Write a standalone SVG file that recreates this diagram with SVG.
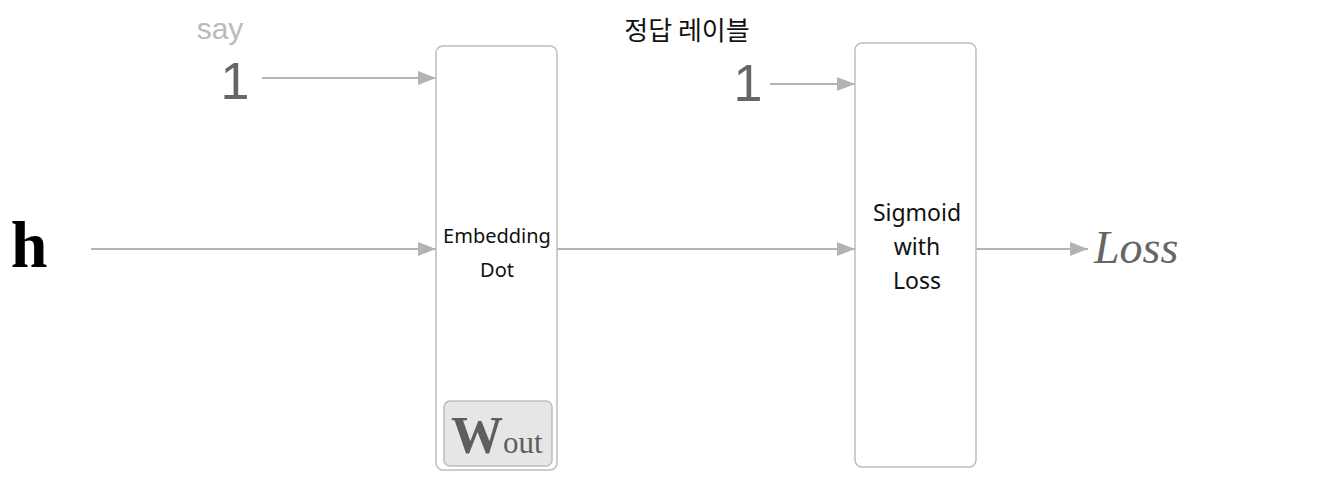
<svg xmlns="http://www.w3.org/2000/svg" width="1338" height="483" viewBox="0 0 1338 483">
<defs>
<marker id="ah" markerWidth="18" markerHeight="14" refX="18" refY="7" orient="auto" markerUnits="userSpaceOnUse">
<path d="M0,0 L18,7 L0,14 Z" fill="#b3b3b3"/>
</marker>
<style>
.box{fill:#fff;stroke:#bdbdbd;stroke-width:1.5}
.ln{stroke:#b3b3b3;stroke-width:2;fill:none}
.lbl{font-family:"Noto Sans","Liberation Sans",sans-serif;fill:#111;text-anchor:middle}
.one{font-family:"Liberation Sans",sans-serif;fill:#666;font-size:52px;text-anchor:middle}
</style>
</defs>
<rect width="1338" height="483" fill="#fff"/>
<g id="connectors">
<line class="ln" x1="262" y1="78" x2="436" y2="78" marker-end="url(#ah)"/>
<line class="ln" x1="91" y1="249" x2="436" y2="249" marker-end="url(#ah)"/>
<line class="ln" x1="557" y1="249" x2="855" y2="249" marker-end="url(#ah)"/>
<line class="ln" x1="770" y1="84" x2="855" y2="84" marker-end="url(#ah)"/>
<line class="ln" x1="976" y1="249" x2="1088" y2="249" marker-end="url(#ah)"/>
</g>
<g id="say">
<text x="220" y="39" font-family="Liberation Sans,sans-serif" font-size="30" fill="#bbb" text-anchor="middle">say</text>
<text class="one" x="235" y="99">1</text>
</g>
<g id="h">
<text x="29" y="267" font-family="Liberation Serif,serif" font-weight="bold" font-size="66" fill="#000" text-anchor="middle">h</text>
</g>
<g id="embedding">
<rect class="box" x="436" y="46" width="121" height="424" rx="7"/>
<text class="lbl" x="497" y="243" font-size="20">Embedding</text>
<text class="lbl" x="497" y="277" font-size="20">Dot</text>
<rect x="444" y="401" width="108" height="65" rx="6" fill="#e6e6e6" stroke="#bdbdbd" stroke-width="1.5"/>
<text x="451" y="453" font-family="Liberation Serif,serif" fill="#5e5e5e"><tspan font-size="52" font-weight="bold">W</tspan><tspan font-size="31">out</tspan></text>
</g>
<g id="label">
<text x="687" y="40" font-family="Noto Sans CJK KR,sans-serif" font-size="26" fill="#111" text-anchor="middle">정답 레이블</text>
<text class="one" x="748" y="101">1</text>
</g>
<g id="sigmoid">
<rect class="box" x="855" y="43" width="121" height="424" rx="7"/>
<text class="lbl" x="917" y="221" font-size="23">Sigmoid</text>
<text class="lbl" x="917" y="255" font-size="23">with</text>
<text class="lbl" x="917" y="289" font-size="23">Loss</text>
</g>
<g id="loss">
<text x="1094" y="263" font-family="Liberation Serif,serif" font-style="italic" font-size="46" fill="#666">Loss</text>
</g>
</svg>
